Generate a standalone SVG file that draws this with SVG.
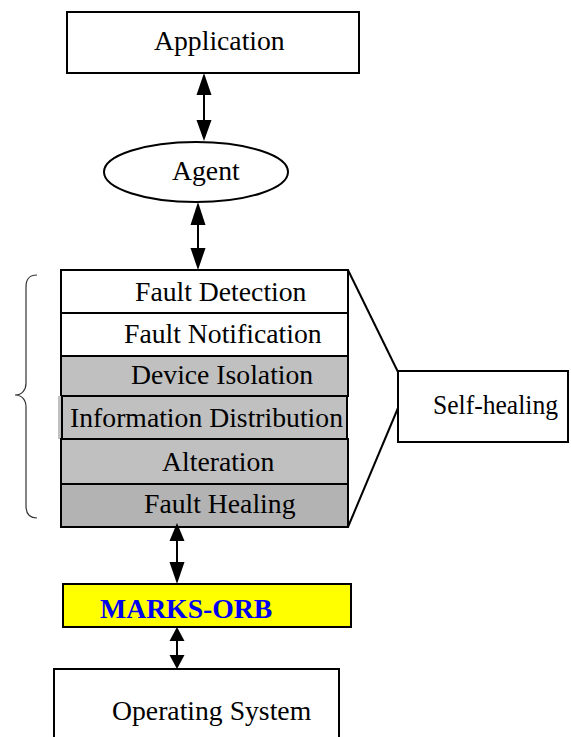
<svg xmlns="http://www.w3.org/2000/svg" width="571" height="737" viewBox="0 0 571 737">
  <style>
    .box { stroke: #000; stroke-width: 2; }
    .lbl { font-family: "Liberation Serif", "Times New Roman", serif; font-size: 27.7px; fill: #000; }
    .orb { font-family: "Liberation Serif", "Times New Roman", serif; font-size: 27.7px; font-weight: bold; fill: #0000ee; }
    .wire { stroke: #000; stroke-width: 2; fill: none; }
    .head { fill: #000; stroke: none; }
  </style>
  <rect width="571" height="737" fill="#fff"/>

  <g id="application">
    <rect class="box" x="67" y="12" width="292" height="61" fill="#fff"/>
    <text class="lbl" x="154" y="50">Application</text>
  </g>

  <g id="agent">
    <ellipse class="box" cx="196" cy="172" rx="92" ry="30" fill="#fff"/>
    <text class="lbl" x="172" y="180">Agent</text>
  </g>

  <g id="stack">
    <rect class="box" x="61" y="270" width="287" height="43" fill="#fff"/>
    <text class="lbl" x="135" y="301">Fault Detection</text>
    <rect class="box" x="61" y="313" width="287" height="43" fill="#fff"/>
    <text class="lbl" x="124" y="343">Fault Notification</text>
    <rect class="box" x="61" y="356" width="287" height="40" fill="#c0c0c0"/>
    <text class="lbl" x="131" y="384">Device Isolation</text>
    <rect x="58" y="396" width="5" height="43" fill="#c0c0c0"/>
    <rect class="box" x="62" y="396" width="285" height="43" fill="#c0c0c0"/>
    <text class="lbl" x="70" y="427">Information Distribution</text>
    <rect class="box" x="61" y="439" width="287" height="45" fill="#c0c0c0"/>
    <text class="lbl" x="162" y="471">Alteration</text>
    <rect class="box" x="61" y="484" width="287" height="43" fill="#b3b3b3"/>
    <text class="lbl" x="144" y="513">Fault Healing</text>
  </g>

  <g id="brace">
    <path d="M37,275 C29,275 26,279 26,287 L26,383 C26,390 22,395 15,395 C22,395 26,400 26,407 L26,506 C26,514 29,518 37,518" fill="none" stroke="#333" stroke-width="1.2"/>
  </g>

  <g id="self-healing">
    <rect class="box" x="398" y="371" width="170" height="71" fill="#fff"/>
    <text class="lbl" x="433" y="414" textLength="125" lengthAdjust="spacingAndGlyphs">Self-healing</text>
  </g>

  <g id="marks-orb">
    <rect class="box" x="63" y="584" width="288" height="43" fill="#ffff00"/>
    <text class="orb" x="100" y="618">MARKS-ORB</text>
  </g>

  <g id="operating-system">
    <rect class="box" x="54" y="669" width="285" height="80" fill="#fff"/>
    <text class="lbl" x="112" y="720">Operating System</text>
  </g>

  <g id="connectors">
    <!-- application <-> agent -->
    <line class="wire" x1="204" y1="90" x2="204" y2="124"/>
    <polygon class="head" points="204,73 196.5,95 211.5,95"/>
    <polygon class="head" points="204,141 196.5,120 211.5,120"/>
    <!-- agent <-> stack -->
    <line class="wire" x1="198" y1="220" x2="198" y2="252"/>
    <polygon class="head" points="198,202 190.5,225 205.5,225"/>
    <polygon class="head" points="198,270 190.5,248 205.5,248"/>
    <!-- stack <-> orb -->
    <line class="wire" x1="177" y1="538" x2="177" y2="566"/>
    <polygon class="head" points="177,523 169.5,541 184.5,541"/>
    <polygon class="head" points="177,584 169.5,562 184.5,562"/>
    <!-- orb <-> os -->
    <line class="wire" x1="177" y1="638" x2="177" y2="658"/>
    <polygon class="head" points="177,627 169.5,641 184.5,641"/>
    <polygon class="head" points="177,669 169.5,655 184.5,655"/>
    <!-- stack fan-out to self-healing -->
    <line class="wire" x1="348" y1="270" x2="398" y2="372"/>
    <line class="wire" x1="348" y1="527" x2="398" y2="408"/>
  </g>
</svg>
